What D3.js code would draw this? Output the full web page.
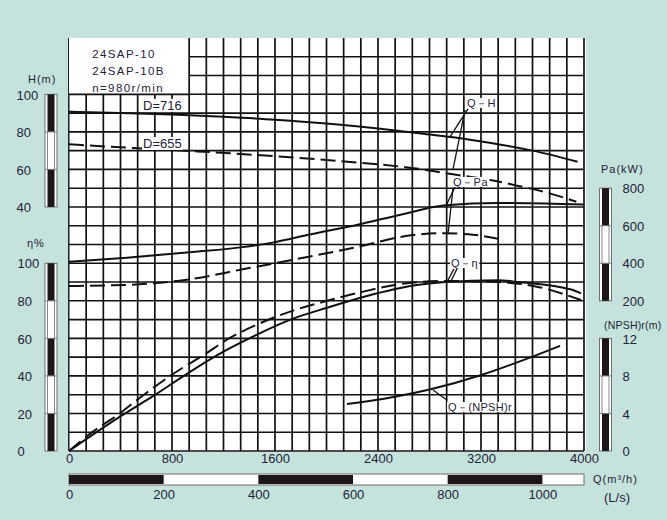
<!DOCTYPE html>
<html><head><meta charset="utf-8">
<script src="https://cdn.jsdelivr.net/npm/d3@7"></script>
<style>
html,body{margin:0;padding:0;background:#c6e2dc;}
svg{display:block;}
text{font-family:"Liberation Sans",Arial,sans-serif;fill:#1e2238;}
</style></head>
<body>
<svg id="c" width="667" height="520"></svg>
<script>
// ---------- data ----------
const qTicks = [0, 800, 1600, 2400, 3200, 4000];
const lsTicks = [0, 200, 400, 600, 800, 1000];
const hTicks = [100, 80, 60, 40];
const etaTicks = [100, 80, 60, 40, 20, 0];
const paTicks = [800, 600, 400, 200];
const npshTicks = [12, 8, 4, 0];

// Q-H, D=716 (solid)
const qH716 = [0, 400, 800, 1200, 1600, 2000, 2400, 2716, 3000, 3300, 3600, 3950];
const vH716 = [90.7, 90.1, 89.2, 88.0, 86.5, 84.4, 81.8, 79.3, 77.0, 73.8, 70.0, 64.1];
// Q-H, D=655 (dashed)
const qH655 = [0, 500, 1000, 1600, 2000, 2400, 2716, 2970, 3270, 3490, 3720, 3940];
const vH655 = [73.4, 71.4, 69.6, 67.0, 65.0, 62.7, 60.3, 57.5, 54.4, 51.2, 47.5, 42.8];
// Q-Pa, D=716 (solid)
const qPa716 = [0, 450, 960, 1350, 1580, 1870, 2250, 2600, 2925, 3335, 3700, 4000];
const vPa716 = [408, 430, 460, 486, 510, 553, 607, 663, 709, 721, 719, 713];
// Q-Pa, D=655 (dashed)
const qPa655 = [0, 450, 900, 1380, 1810, 2250, 2615, 2870, 3100, 3335];
const vPa655 = [279, 285, 311, 372, 428, 488, 545, 560, 555, 530];
// Q-eta, D=716 (solid)
const qEta716 = [0, 396, 652, 940, 1196, 1460, 1740, 2004, 2300, 2716, 2925, 3335, 3490, 3900, 3977];
const vEta716 = [0, 18.3, 29.2, 42.2, 52.8, 62.0, 70.5, 76.3, 82.3, 88.5, 90.0, 91.0, 90.0, 86.0, 84.0];
// Q-eta, D=655 (dashed)
const qEta655 = [0, 186, 396, 551, 808, 1072, 1227, 1483, 1740, 2004, 2260, 2584, 2925, 3335, 3644, 3977];
const vEta655 = [0, 10.3, 20.1, 28.4, 41.0, 52.3, 59.3, 68.0, 74.8, 80.0, 84.5, 89.0, 90.6, 90.0, 87.4, 80.4];
// Q-(NPSH)r
const qNpsh = [2159, 2500, 2816, 3203, 3590, 3814];
const vNpsh = [5.0, 5.7, 6.6, 8.1, 10.0, 11.2];

// ---------- scales ----------
const svg = d3.select("#c");
const X0 = 69, X1 = 584, Y0 = 451, Y1 = 38;
const x = d3.scaleLinear().domain([0, 4000]).range([X0, X1]);
const lsMax = 1088;
const xLs = d3.scaleLinear().domain([0, lsMax]).range([X0, X1]);
const yU = d3.scaleLinear().domain([0, 22]).range([Y0, Y1]);          // grid units
const yH = d3.scaleLinear().domain([-90, 130]).range([Y0, Y1]);       // H (m)
const yEta = d3.scaleLinear().domain([0, 220]).range([Y0, Y1]);       // eta %
const yPa = d3.scaleLinear().domain([-600, 1600]).range([Y0, Y1]);    // Pa kW
const yNp = d3.scaleLinear().domain([0, 44]).range([Y0, Y1]);         // NPSH m

// ---------- plot area + grid ----------
svg.append("rect").attr("x", X0 - 1).attr("y", Y1).attr("width", X1 - X0 + 3).attr("height", Y0 - Y1 + 1).attr("fill", "#fff");
const g = svg.append("g");
const vCols = d3.range(0, 31).map(k => k * 4000 / 30);
g.selectAll("line.v").data(vCols).join("line")
  .attr("x1", d => x(d)).attr("x2", d => x(d)).attr("y1", Y1).attr("y2", Y0)
  .attr("stroke", "#111").attr("stroke-width", (d, i) => (i === 0 ? 1 : 1.7));
const hRows = d3.range(0, 22);
g.selectAll("line.h").data(hRows).join("line")
  .attr("x1", X0).attr("x2", X1).attr("y1", d => yU(d)).attr("y2", d => yU(d))
  .attr("stroke", "#111").attr("stroke-width", 1.6);

// label box
const boxQ = 4000 * 7 / 30;
svg.append("rect").attr("x", X0 - 1).attr("y", Y1).attr("width", x(boxQ) - X0 + 1).attr("height", yU(19) - Y1).attr("fill", "#fff");
svg.append("path").attr("d", `M${x(boxQ)},${Y1}V${yU(19)}H${X0}`).attr("fill", "none").attr("stroke", "#111").attr("stroke-width", 1.7);
svg.append("line").attr("x1", X0 - 0.5).attr("x2", X0 - 0.5).attr("y1", Y1).attr("y2", Y0).attr("stroke", "#222").attr("stroke-width", 1);
const boxLines = ["24SAP-10", "24SAP-10B", "n=980r/min"];
svg.selectAll("text.box").data(boxLines).join("text")
  .attr("x", x(180)).attr("y", (d, i) => yU(21) + 1 + i * 17)
  .attr("font-size", 11.5).attr("letter-spacing", 1.4).attr("fill", "#2a2a2a").text(d => d);

// ---------- curves ----------
function curve(qs, vs, ys, dashed) {
  const pts = qs.map((q, i) => [x(q), ys(vs[i])]);
  svg.append("path").attr("d", d3.line().curve(d3.curveMonotoneX)(pts))
    .attr("fill", "none").attr("stroke", "#111").attr("stroke-width", 2)
    .attr("stroke-dasharray", dashed ? "15,6" : null);
}
curve(qH716, vH716, yH, false);
curve(qH655, vH655, yH, true);
curve(qPa716, vPa716, yPa, false);
curve(qPa655, vPa655, yPa, true);
curve(qEta716, vEta716, yEta, false);
curve(qEta655, vEta655, yEta, true);
curve(qNpsh, vNpsh, yNp, false);

// ---------- annotations (data coords: Q, grid units) ----------
const leaders = [
  [3099, 18.22, 2959, 16.73], [3076, 18.17, 2983, 15.02],
  [2998, 14.07, 2928, 13.05], [2983, 14.01, 2944, 11.56],
  [2990, 9.70, 2936, 9.00], [3013, 9.70, 2967, 9.06],
  [2827, 3.25, 2936, 2.72]
];
svg.selectAll("line.lead").data(leaders).join("line")
  .attr("x1", d => x(d[0])).attr("y1", d => yU(d[1])).attr("x2", d => x(d[2])).attr("y2", d => yU(d[3]))
  .attr("stroke", "#111").attr("stroke-width", 1.3);

const annoText = [
  {t: "D=716", q: 575, u: 18.17, fs: 13, ls: 0},
  {t: "D=655", q: 575, u: 16.14, fs: 13, ls: 0},
  {t: "Q－H", q: 3091, u: 18.33, fs: 11, ls: 0.5},
  {t: "Q－Pa", q: 2983, u: 14.12, fs: 11, ls: 0.5},
  {t: "Q－η", q: 2967, u: 9.80, fs: 11, ls: 0.5},
  {t: "Q－(NPSH)r", q: 2944, u: 2.13, fs: 11, ls: 0.3}
];
const ag = svg.append("g");
annoText.forEach(d => {
  const grp = ag.append("g");
  const bgR = grp.append("rect").attr("fill", "#fff");
  const t = grp.append("text").attr("x", x(d.q)).attr("y", yU(d.u)).attr("font-size", d.fs)
    .attr("letter-spacing", d.ls).text(d.t);
  const b = t.node().getBBox();
  bgR.attr("x", b.x - 1).attr("y", b.y + 1).attr("width", b.width + 2).attr("height", b.height - 2);
});

// ---------- scale bars ----------
function vbar(xl, scale, ticks) {
  const top = scale(ticks[0]), bot = scale(ticks[ticks.length - 1]);
  const bg = svg.append("g");
  bg.append("rect").attr("x", xl).attr("y", top).attr("width", 12).attr("height", bot - top)
    .attr("fill", "#fff").attr("stroke", "#6f6f6f").attr("stroke-width", 1);
  for (let i = 0; i < ticks.length - 1; i++) {
    const y1 = scale(ticks[i]), y2 = scale(ticks[i + 1]);
    if (i % 2 === 0) {
      bg.append("rect").attr("x", xl + 2.5).attr("y", y1).attr("width", 7).attr("height", y2 - y1).attr("fill", "#1a1716");
    } else {
      [xl + 2.5, xl + 9.5].forEach(xx => bg.append("line").attr("x1", xx).attr("x2", xx).attr("y1", y1).attr("y2", y2).attr("stroke", "#888").attr("stroke-width", 1));
    }
    if (i > 0) bg.append("line").attr("x1", xl).attr("x2", xl + 12).attr("y1", y1).attr("y2", y1).attr("stroke", "#777").attr("stroke-width", 1);
  }
}
vbar(45, yH, hTicks);
vbar(45, yEta, etaTicks);
vbar(599.5, yPa, paTicks);
vbar(599.5, yNp, npshTicks);

function tickAxis(gen, scale, ticks, tx) {
  const a = svg.append("g").attr("transform", `translate(${tx},0)`)
    .call(gen(scale).tickValues(ticks).tickSize(0).tickPadding(0).tickFormat(d3.format("d")));
  a.select(".domain").remove();
  a.selectAll("text").attr("font-size", 13).attr("fill", "#1e2238")
    .attr("font-family", "Liberation Sans, Arial, sans-serif").attr("text-anchor", "start").attr("dy", "0.36em");
  return a;
}
tickAxis(d3.axisLeft, yH, hTicks, 16.5);
tickAxis(d3.axisLeft, yEta, etaTicks, 17.5);
tickAxis(d3.axisRight, yPa, paTicks, 622.5);
tickAxis(d3.axisRight, yNp, npshTicks, 622.5);

// bottom Q axis
const ax = svg.append("g").attr("transform", `translate(0,${Y0 + 3})`)
  .call(d3.axisBottom(x).tickValues(qTicks).tickSize(0).tickPadding(0).tickFormat(d3.format("d")));
ax.select(".domain").remove();
ax.selectAll("text").attr("font-size", 13).attr("fill", "#1e2238").attr("font-family", "Liberation Sans, Arial, sans-serif").attr("dy", "0.71em");

// L/s bar
const barY = 474, barH = 11;
svg.append("rect").attr("x", X0).attr("y", barY).attr("width", X1 - X0).attr("height", barH)
  .attr("fill", "#fff").attr("stroke", "#6f6f6f").attr("stroke-width", 1);
const lsSeg = lsTicks.slice(0, -1).map((v, i) => [v, lsTicks[i + 1], i]).filter(d => d[2] % 2 === 0);
svg.selectAll("rect.ls").data(lsSeg).join("rect")
  .attr("x", d => xLs(d[0])).attr("y", barY + 1).attr("width", d => xLs(d[1]) - xLs(d[0])).attr("height", barH - 2)
  .attr("fill", "#1a1716");
const al = svg.append("g").attr("transform", `translate(0,${barY + barH + 5})`)
  .call(d3.axisBottom(xLs).tickValues(lsTicks).tickSize(0).tickPadding(0).tickFormat(d3.format("d")));
al.select(".domain").remove();
al.selectAll("text").attr("font-size", 13).attr("fill", "#1e2238").attr("font-family", "Liberation Sans, Arial, sans-serif").attr("dy", "0.71em");

// ---------- titles ----------
const titles = [
  {t: "H(m)", x: 28, y: 83, a: "start", fs: 11, ls: 1},
  {t: "η%", x: 27, y: 247, a: "start", fs: 11, ls: 1},
  {t: "Pa(kW)", x: 601, y: 173, a: "start", fs: 11, ls: 1},
  {t: "(NPSH)r(m)", x: 604, y: 329, a: "start", fs: 10.5, ls: 0.2},
  {t: "Q(m³/h)", x: 593, y: 483, a: "start", fs: 11, ls: 1},
  {t: "(L/s)", x: 617, y: 502, a: "middle", fs: 13, ls: 0}
];
svg.selectAll("text.title").data(titles).join("text")
  .attr("x", d => d.x).attr("y", d => d.y).attr("text-anchor", d => d.a)
  .attr("font-size", d => d.fs).attr("letter-spacing", d => d.ls)
  .text(d => d.t);
</script>
</body></html>
